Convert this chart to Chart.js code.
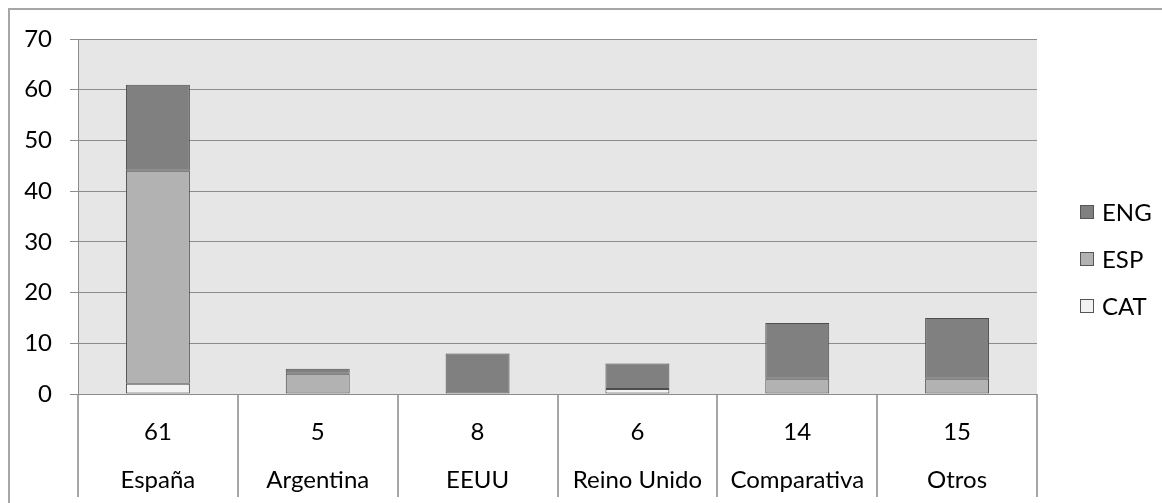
<!DOCTYPE html>
<html>
<head>
<meta charset="utf-8">
<script src="https://cdn.jsdelivr.net/npm/chart.js@4.4.1/dist/chart.umd.min.js"></script>
<style>
  html, body { margin: 0; padding: 0; background: #fff; }
  .wrap { position: relative; width: 1162px; height: 503px; overflow: hidden; }
  .frame { position: absolute; left: 8px; top: 8px; width: 1200px; height: 600px;
           border-top: 2px solid #a6a6a6; border-left: 2px solid #a6a6a6; box-sizing: border-box; }
  canvas { position: absolute; left: 0; top: 0; }
  .legend { position: absolute; left: 1080px; top: 188px; font-family: Lato, sans-serif; font-size: 24px; color: #000; }
  .legend-item { display: flex; align-items: center; height: 47px; }
  .swatch { width: 14px; height: 14px; border: 1px solid #555; margin-right: 8px; box-sizing: border-box; }
</style>
</head>
<body>
<div class="wrap">
  <div class="frame"></div>
  <canvas id="chart" width="1162" height="503"></canvas>
  <div class="legend" id="legend"></div>
</div>
<script>
const categories = ['España', 'Argentina', 'EEUU', 'Reino Unido', 'Comparativa', 'Otros'];
const totals = [61, 5, 8, 6, 14, 15];
const catValues = [2, 0, 0, 1, 0, 0];
const espValues = [42, 4, 0, 0, 3, 3];
const engValues = [17, 1, 8, 5, 11, 12];
const yTicks = [0, 10, 20, 30, 40, 50, 60, 70];

const FONT = 'Lato, sans-serif';

const series = [
  { label: 'CAT', data: catValues, color: '#f2f2f2' },
  { label: 'ESP', data: espValues, color: '#b2b2b2' },
  { label: 'ENG', data: engValues, color: '#808080' },
];

// plot background
const plotBg = {
  id: 'plotBg',
  beforeDraw(chart) {
    const { ctx, chartArea: a } = chart;
    ctx.save();
    ctx.fillStyle = '#e6e6e6';
    ctx.fillRect(a.left, a.top, a.right - a.left, a.bottom - a.top);
    ctx.restore();
  }
};

new Chart(document.getElementById('chart'), {
  type: 'bar',
  data: {
    labels: categories.map((c, i) => [String(totals[i]), c]),
    datasets: series.map(s => ({
      label: s.label,
      data: s.data.map(v => v || null),
      backgroundColor: s.color,
      borderColor: '#4d4d4d',
      borderWidth: 1,
      borderSkipped: false,
      barPercentage: 0.4,
      categoryPercentage: 1.0
    }))
  },
  options: {
    responsive: false,
    animation: false,
    events: [],
    layout: { padding: { left: 0, top: 39, right: 125, bottom: 0 } },
    plugins: { legend: { display: false }, tooltip: { enabled: false } },
    scales: {
      x: {
        stacked: true,
        grid: { offset: true, drawOnChartArea: false, color: '#a6a6a6', lineWidth: 2, tickLength: 103 },
        border: { display: false },
        ticks: {
          color: '#000',
          padding: -89,
          font: { family: FONT, size: 24, lineHeight: 48 / 24 },
          maxRotation: 0,
          autoSkip: false
        },
        afterFit(scale) { scale.height = 109; }
      },
      y: {
        stacked: true,
        min: 0,
        max: 70,
        afterBuildTicks(scale) { scale.ticks = yTicks.map(v => ({ value: v })); },
        grid: { color: '#8c8c8c', lineWidth: 1, tickLength: 8 },
        border: { display: true, color: '#8c8c8c', width: 1 },
        ticks: { color: '#000', padding: 18, font: { family: FONT, size: 24 } },
        afterFit(scale) { scale.width = 78; }
      }
    }
  },
  plugins: [plotBg]
});

document.getElementById('legend').innerHTML = series.slice().reverse().map(s => `
  <div class="legend-item"><span class="swatch" style="background:${s.color}"></span>${s.label}</div>`).join('');
</script>
</body>
</html>
